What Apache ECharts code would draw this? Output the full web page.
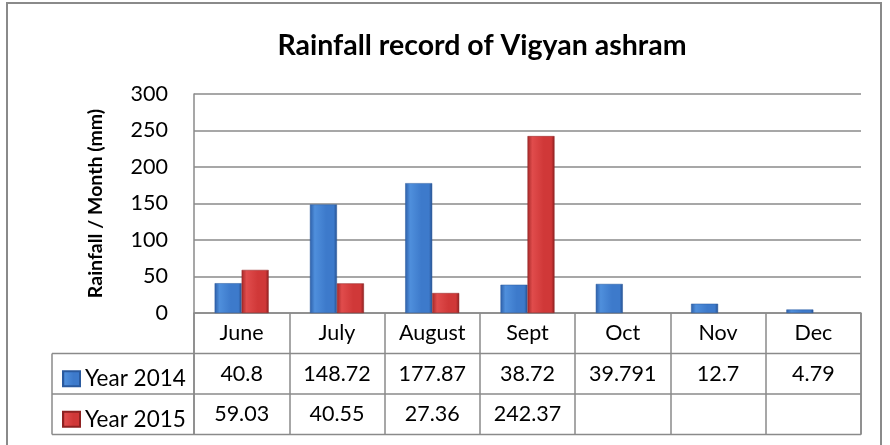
<!DOCTYPE html>
<html><head><meta charset="utf-8">
<script src="https://cdn.jsdelivr.net/npm/echarts@6/dist/echarts.min.js"></script>
<style>html,body{margin:0;padding:0;background:#fff}#c{width:890px;height:445px}</style>
</head><body><div id="c"></div>
<script>
var months = ['June','July','August','Sept','Oct','Nov','Dec'];
var year2014 = [40.8,148.72,177.87,38.72,39.791,12.7,4.79];
var year2015 = [59.03,40.55,27.36,242.37,null,null,null];
var seriesNames = ['Year 2014','Year 2015'];
var titleText = 'Rainfall record of Vigyan ashram';
var yName = 'Rainfall / Month (mm)';

var FONT = 'Lato';
var G = {left:194, right:29, top:94, bottom:132};
var W = 890, H = 445;
var rowH = 40.5;
var tableLeft = 52;
var gx1 = W - G.right;
var axisY = H - G.bottom;

function grad(c0,c1,c2,c3){
  return {type:'linear',x:0,y:0,x2:1,y2:0,colorStops:[
    {offset:0,color:c0},{offset:0.18,color:c1},{offset:0.6,color:c2},{offset:0.88,color:c2},{offset:1,color:c3}]};
}
var blue = grad('#2d5fa8','#4f8fdc','#3d7acb','#26508f');
var red = grad('#a52828','#e04c4c','#d03838','#8e2020');

var chart = echarts.init(document.getElementById('c'));
var lineStyle = {stroke:'#8a8a8a', lineWidth:1.5};
chart.setOption({
  backgroundColor:'#fff',
  animation:false,
  title:{text:titleText,left:477,top:26,textAlign:'center',
    textStyle:{fontFamily:FONT,fontWeight:'bold',fontSize:28.5,color:'#000'}},
  legend:{orient:'vertical',left:57,top:axisY+rowH,itemGap:0,itemWidth:17,itemHeight:15,
    icon:'rect',data:seriesNames,selectedMode:false,
    textStyle:{fontFamily:FONT,fontSize:22.5,color:'#000',lineHeight:rowH}},
  grid:{left:G.left,right:G.right,top:G.top,bottom:G.bottom,outerBoundsMode:'none'},
  xAxis:{type:'category',data:months,
    axisLine:{show:true,lineStyle:{color:'#8a8a8a',width:1.5}},
    axisTick:{show:true,length:rowH*3,lineStyle:{color:'#8a8a8a',width:1.5}},
    axisLabel:{margin:0,interval:0,
      formatter:function(v,i){
        var a = year2014[i]==null?' ':String(year2014[i]);
        var b = year2015[i]==null?' ':String(year2015[i]);
        return '{c|'+v+'}\n{v|'+a+'}\n{v|'+b+'}';
      },
      rich:{c:{fontFamily:FONT,fontSize:21.5,color:'#000',lineHeight:rowH},
            v:{fontFamily:FONT,fontSize:21.5,color:'#000',lineHeight:rowH}}}
  },
  yAxis:{type:'value',min:0,max:300,interval:50,
    name:yName,nameLocation:'middle',nameGap:88,
    nameTextStyle:{fontFamily:FONT,fontWeight:'bold',fontSize:19.5,color:'#000'},
    axisLine:{show:true,lineStyle:{color:'#8a8a8a',width:1.5}},
    axisTick:{show:false},
    axisLabel:{margin:26,fontFamily:FONT,fontSize:21.5,color:'#000'},
    splitLine:{lineStyle:{color:'#8a8a8a',width:1.5}}},
  series:[
    {name:seriesNames[0],type:'bar',data:year2014,barWidth:27,barGap:'0%',
      itemStyle:{color:blue,borderColor:'#2a5a9e',borderWidth:0.5}},
    {name:seriesNames[1],type:'bar',data:year2015,barWidth:27,barGap:'0%',
      itemStyle:{color:red,borderColor:'#8e2222',borderWidth:0.5}}
  ],
  graphic:[
    {type:'rect',shape:{x:7,y:3,width:874,height:500},style:{fill:null,stroke:'#8a8a8a',lineWidth:2},silent:true},
    {type:'line',shape:{x1:tableLeft,y1:axisY+rowH,x2:gx1,y2:axisY+rowH},style:lineStyle},
    {type:'line',shape:{x1:tableLeft,y1:axisY+2*rowH,x2:gx1,y2:axisY+2*rowH},style:lineStyle},
    {type:'line',shape:{x1:tableLeft,y1:axisY+3*rowH,x2:gx1,y2:axisY+3*rowH},style:lineStyle},
    {type:'line',shape:{x1:tableLeft,y1:axisY+rowH,x2:tableLeft,y2:axisY+3*rowH},style:lineStyle},
    {type:'line',shape:{x1:G.left,y1:axisY,x2:G.left,y2:axisY+3*rowH},style:lineStyle},
    {type:'line',shape:{x1:gx1,y1:axisY,x2:gx1,y2:axisY+3*rowH},style:lineStyle}
  ]
});
</script></body></html>
